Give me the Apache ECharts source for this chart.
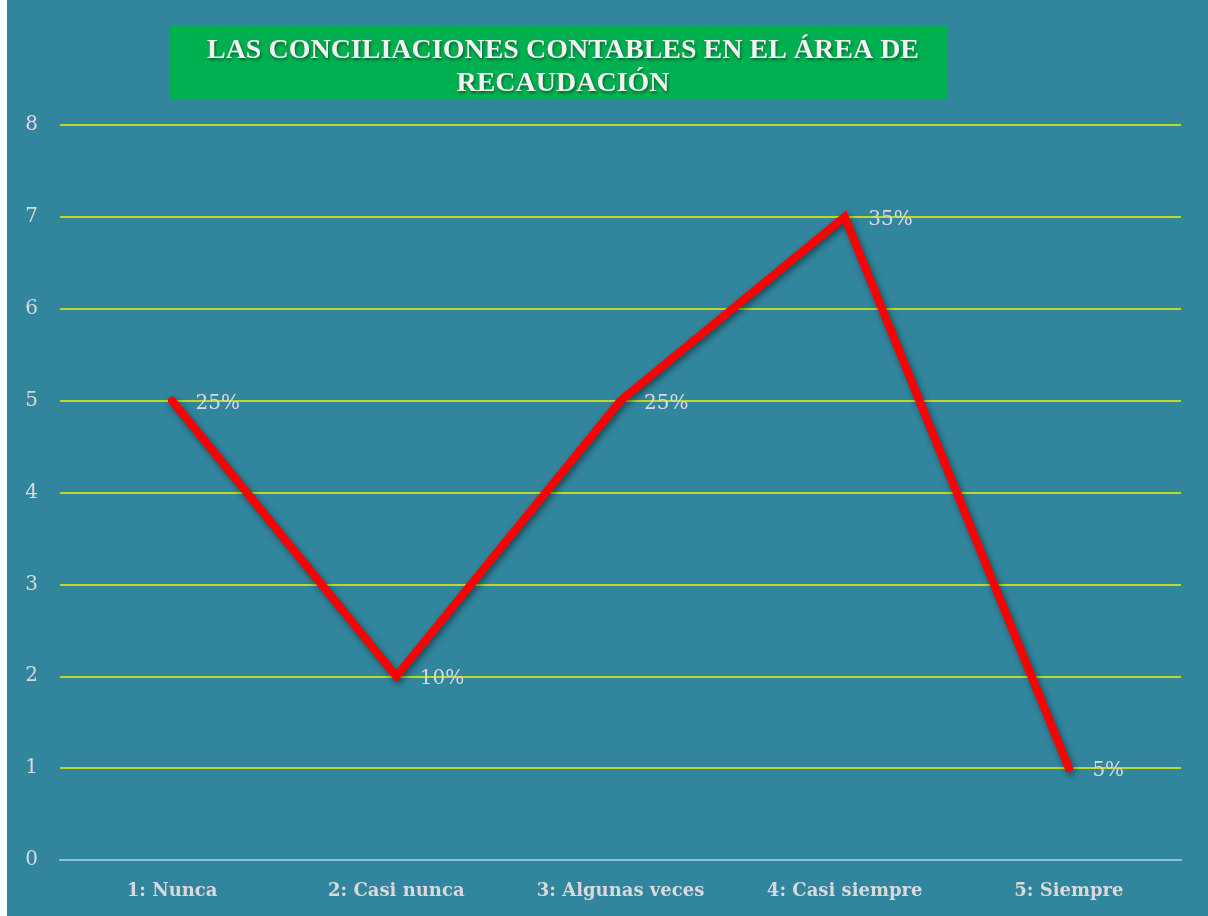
<!DOCTYPE html>
<html>
<head>
<meta charset="utf-8">
<script src="https://cdn.jsdelivr.net/npm/echarts@6/dist/echarts.min.js"></script>
<style>
html, body { margin: 0; padding: 0; background: #ffffff; }
#chart { position: absolute; left: 7px; top: 0; width: 1201px; height: 916px; }
</style>
</head>
<body>
<div id="chart"></div>
<script>
// datos
const categories = ["1: Nunca", "2: Casi nunca", "3: Algunas veces", "4: Casi siempre", "5: Siempre"];
const values = [5, 2, 5, 7, 1];
const percentLabels = ["25%", "10%", "25%", "35%", "5%"];
const titleLines = ["LAS CONCILIACIONES CONTABLES EN EL ÁREA DE", "RECAUDACIÓN"];

const myChart = echarts.init(document.getElementById("chart"));
myChart.setOption({
    backgroundColor: "#31859C",
    animation: false,
    graphic: [{
        type: "rect",
        shape: { x: 163, y: 25, width: 777, height: 74 },
        style: { fill: "#00B050" },
        z: 0
    }],
    title: {
        text: titleLines.join("\n"),
        left: 551,
        top: 29,
        textAlign: "center",
        textStyle: {
            fontFamily: "Liberation Serif",
            fontWeight: "bold",
            fontSize: 28,
            lineHeight: 33,
            color: "#F2F2F2",
            textShadowColor: "rgba(0,0,0,0.45)",
            textShadowBlur: 3,
            textShadowOffsetX: 1,
            textShadowOffsetY: 2
        }
    },
    grid: {
        left: 53,
        right: 27,
        top: 125,
        bottom: 56,
        containLabel: false
    },
    xAxis: {
        type: "category",
        data: categories,
        boundaryGap: true,
        axisTick: { show: false },
        axisLine: { lineStyle: { color: "#8EC3D1", width: 2 } },
        axisLabel: {
            margin: 22,
            fontFamily: "DejaVu Serif",
            fontWeight: "bold",
            fontSize: 18,
            color: "#D9D9D9"
        }
    },
    yAxis: {
        type: "value",
        min: 0,
        max: 8,
        interval: 1,
        axisLine: { show: false },
        axisTick: { show: false },
        axisLabel: {
            margin: 22,
            fontFamily: "DejaVu Serif",
            fontSize: 20,
            color: "#D9D9D9"
        },
        splitLine: {
            lineStyle: { color: "#EEF500", width: 1.5 }
        }
    },
    series: [{
        name: "Conciliaciones",
        type: "line",
        data: values,
        symbol: "circle",
        symbolSize: 7,
        showSymbol: true,
        itemStyle: { color: "#FF0000" },
        lineStyle: {
            color: "#FF0000",
            width: 8,
            cap: "round",
            join: "miter",
            shadowColor: "rgba(0,0,0,0.45)",
            shadowBlur: 6,
            shadowOffsetX: 2,
            shadowOffsetY: 3
        },
        label: {
            show: true,
            position: "right",
            distance: 20,
            offset: [0, 3],
            fontFamily: "DejaVu Serif",
            fontSize: 20,
            color: "#D9D9D9",
            formatter: function (params) {
                return percentLabels[params.dataIndex];
            }
        }
    }]
});
</script>
</body>
</html>
